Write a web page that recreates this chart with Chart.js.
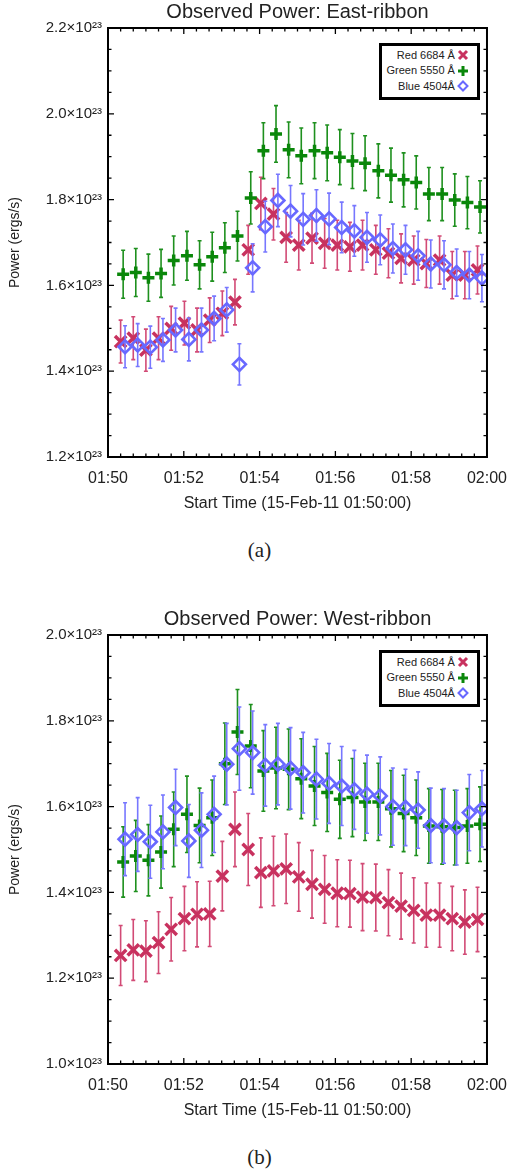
<!DOCTYPE html>
<html>
<head>
<meta charset="utf-8">
<script src="https://cdn.jsdelivr.net/npm/chart.js@4/dist/chart.umd.min.js"></script>
<style>
body { margin: 0; background: #fff; }
#page { position: relative; width: 519px; height: 1171px; font-family: "Liberation Sans", Arial, sans-serif; }
#page canvas { position: absolute; left: 0; }
.legend { position: absolute; box-sizing: border-box; width: 101px; height: 57px; border: 3px solid #000; background: #fff; }
.legend div { position: absolute; right: 22px; font-size: 11px; line-height: 13px; color: #222; white-space: nowrap; }
.legend svg { position: absolute; right: 8px; }
.caption { position: absolute; left: 0; width: 519px; text-align: center; font-family: "Liberation Serif", serif; font-size: 21px; line-height: 24px; color: #222; }
</style>
</head>
<body>
<div id="page">
  <canvas id="east" width="519" height="517" style="top:0"></canvas>
  <div class="caption" style="top:538px">(a)</div>
  <canvas id="west" width="519" height="517" style="top:607px"></canvas>
  <div class="caption" style="top:1145px">(b)</div>
</div>
<script>
// sample times in seconds after 01:50:00 (the three filters are a few seconds apart)
var tRed   = [20, 40, 60, 80, 100, 121, 141, 161, 181, 201, 222, 242, 262, 282, 302, 323, 343, 363, 383, 403, 424, 444, 464, 484, 504, 525, 545, 565, 585];
var tGreen = [24, 44, 64, 84, 104, 125, 145, 165, 185, 205, 226, 246, 266, 286, 306, 327, 347, 367, 387, 407, 428, 448, 468, 488, 508, 529, 549, 569, 589];
var tBlue  = [27, 47, 67, 87, 107, 128, 148, 168, 188, 208, 229, 249, 269, 289, 309, 330, 350, 370, 390, 410, 431, 451, 471, 491, 511, 532, 552, 572, 592];

// power in units of 1e23 erg/s, East ribbon
var eastRed = [1.469, 1.477, 1.449, 1.477, 1.500, 1.512, 1.496, 1.519, 1.535, 1.561, 1.683, 1.791, 1.766, 1.712, 1.694, 1.710, 1.698, 1.694, 1.690, 1.694, 1.683, 1.675, 1.663, 1.659, 1.651, 1.659, 1.624, 1.624, 1.636];
var eastRedErr = [0.050, 0.050, 0.049, 0.050, 0.051, 0.051, 0.051, 0.052, 0.052, 0.053, 0.057, 0.061, 0.060, 0.058, 0.058, 0.058, 0.058, 0.058, 0.057, 0.058, 0.057, 0.057, 0.057, 0.056, 0.056, 0.056, 0.055, 0.055, 0.056];
var eastGreen = [1.626, 1.630, 1.618, 1.628, 1.658, 1.669, 1.648, 1.667, 1.688, 1.715, 1.804, 1.914, 1.953, 1.916, 1.902, 1.914, 1.909, 1.899, 1.890, 1.885, 1.867, 1.857, 1.846, 1.840, 1.813, 1.813, 1.799, 1.793, 1.783];
var eastGreenErr = [0.056, 0.056, 0.055, 0.056, 0.057, 0.057, 0.056, 0.057, 0.058, 0.058, 0.061, 0.065, 0.066, 0.065, 0.065, 0.065, 0.065, 0.064, 0.064, 0.064, 0.063, 0.063, 0.063, 0.062, 0.062, 0.062, 0.061, 0.061, 0.061];
var eastBlue = [1.457, 1.461, 1.456, 1.473, 1.496, 1.474, 1.496, 1.523, 1.543, 1.416, 1.641, 1.737, 1.798, 1.773, 1.754, 1.763, 1.755, 1.735, 1.727, 1.712, 1.706, 1.686, 1.683, 1.669, 1.650, 1.648, 1.630, 1.624, 1.617];
var eastBlueErr = [0.049, 0.050, 0.049, 0.050, 0.051, 0.050, 0.051, 0.052, 0.052, 0.048, 0.056, 0.059, 0.061, 0.060, 0.060, 0.060, 0.060, 0.059, 0.059, 0.058, 0.058, 0.057, 0.057, 0.057, 0.056, 0.056, 0.055, 0.055, 0.055];

// West ribbon
var westRed = [1.253, 1.266, 1.263, 1.283, 1.314, 1.339, 1.349, 1.350, 1.438, 1.547, 1.500, 1.446, 1.450, 1.455, 1.436, 1.419, 1.407, 1.398, 1.397, 1.389, 1.388, 1.376, 1.368, 1.358, 1.347, 1.347, 1.339, 1.331, 1.337];
var westRedErr = [0.070, 0.071, 0.071, 0.072, 0.074, 0.075, 0.076, 0.076, 0.081, 0.087, 0.084, 0.081, 0.081, 0.081, 0.080, 0.079, 0.079, 0.078, 0.078, 0.078, 0.078, 0.077, 0.077, 0.076, 0.075, 0.075, 0.075, 0.075, 0.075];
var westGreen = [1.471, 1.485, 1.475, 1.494, 1.547, 1.582, 1.556, 1.574, 1.700, 1.774, 1.741, 1.683, 1.690, 1.687, 1.665, 1.648, 1.633, 1.617, 1.621, 1.611, 1.611, 1.595, 1.584, 1.574, 1.555, 1.553, 1.551, 1.555, 1.559];
var westGreenErr = [0.082, 0.083, 0.083, 0.084, 0.087, 0.089, 0.087, 0.088, 0.095, 0.099, 0.097, 0.094, 0.095, 0.094, 0.093, 0.092, 0.091, 0.091, 0.091, 0.090, 0.090, 0.089, 0.089, 0.088, 0.087, 0.087, 0.087, 0.087, 0.087];
var westBlue = [1.524, 1.535, 1.518, 1.541, 1.598, 1.520, 1.545, 1.582, 1.699, 1.735, 1.726, 1.696, 1.699, 1.689, 1.679, 1.664, 1.654, 1.648, 1.639, 1.629, 1.625, 1.600, 1.598, 1.592, 1.556, 1.555, 1.551, 1.586, 1.595];
var westBlueErr = [0.085, 0.086, 0.085, 0.086, 0.089, 0.085, 0.087, 0.089, 0.095, 0.097, 0.097, 0.095, 0.095, 0.095, 0.094, 0.093, 0.093, 0.092, 0.092, 0.091, 0.091, 0.090, 0.089, 0.089, 0.087, 0.087, 0.087, 0.089, 0.089];

var seriesNames = ['Red 6684 Å', 'Green 5550 Å', 'Blue 4504Å'];
var timeLabels = ['01:50', '01:52', '01:54', '01:56', '01:58', '02:00'];
var eastYTicks = [1.2, 1.4, 1.6, 1.8, 2.0, 2.2];
var westYTicks = [1.0, 1.2, 1.4, 1.6, 1.8, 2.0];

var styles = [
  { mark: '#c8325f', bar: '#d24b76', pointStyle: 'crossRot', radius: 8, width: 3.5, order: 2,
    icon: '<path d="M2 2L10 10M10 2L2 10" stroke="#c8325f" stroke-width="3"/>' },
  { mark: '#0a870a', bar: '#1e901e', pointStyle: 'cross', radius: 6, width: 3.5, order: 1,
    icon: '<path d="M6 1V11M1 6H11" stroke="#0a870a" stroke-width="3"/>' },
  { mark: '#6868ff', bar: '#7777ff', pointStyle: 'rectRot', radius: 6.5, width: 2.6, order: 0,
    icon: '<path d="M6 1.5L10.5 6L6 10.5L1.5 6Z" fill="none" stroke="#6868ff" stroke-width="2"/>' }
];

function pts(t, v, e) {
  return t.map(function (x, i) { return { x: x, y: v[i], err: e[i] }; });
}

// vertical error bars with small caps, drawn under each series' markers
var errorBars = {
  id: 'errorBars',
  beforeDatasetDraw: function (chart, args) {
    var ds = chart.data.datasets[args.index];
    var xs = chart.scales.x, ys = chart.scales.y, ctx = chart.ctx;
    ctx.save();
    ctx.strokeStyle = ds.barColor;
    ctx.lineWidth = 1.6;
    ctx.beginPath();
    ds.data.forEach(function (p) {
      var px = xs.getPixelForValue(p.x);
      var top = ys.getPixelForValue(p.y + p.err), bot = ys.getPixelForValue(p.y - p.err);
      ctx.moveTo(px, top); ctx.lineTo(px, bot);
      ctx.moveTo(px - 2, top); ctx.lineTo(px + 2, top);
      ctx.moveTo(px - 2, bot); ctx.lineTo(px + 2, bot);
    });
    ctx.stroke();
    ctx.restore();
  }
};

// box frame with inward major/minor ticks on all four sides
var frame = {
  id: 'frame',
  afterDraw: function (chart) {
    var a = chart.chartArea, ctx = chart.ctx, xs = chart.scales.x, ys = chart.scales.y;
    ctx.save();
    ctx.strokeStyle = '#000';
    ctx.lineWidth = 1.3;
    ctx.beginPath();
    xs.ticks.forEach(function (t) {
      var px = xs.getPixelForValue(t.value), len = t.value % 120 === 0 ? 6 : 3.5;
      ctx.moveTo(px, a.bottom); ctx.lineTo(px, a.bottom - len);
      ctx.moveTo(px, a.top); ctx.lineTo(px, a.top + len);
    });
    ys.ticks.forEach(function (t) {
      var py = ys.getPixelForValue(t.value);
      var len = Math.abs(t.value * 5 - Math.round(t.value * 5)) < 1e-6 ? 6 : 3.5;
      ctx.moveTo(a.left, py); ctx.lineTo(a.left + len, py);
      ctx.moveTo(a.right, py); ctx.lineTo(a.right - len, py);
    });
    ctx.stroke();
    ctx.lineWidth = 2;
    ctx.strokeRect(a.left, a.top, a.right - a.left, a.bottom - a.top);
    ctx.restore();
  }
};

function makeChart(id, title, yTicks, red, redErr, green, greenErr, blue, blueErr) {
  var values = [[tRed, red, redErr], [tGreen, green, greenErr], [tBlue, blue, blueErr]];
  var datasets = values.map(function (s, i) {
    var st = styles[i];
    return {
      label: seriesNames[i],
      data: pts(s[0], s[1], s[2]),
      showLine: false,
      order: st.order,
      barColor: st.bar,
      pointStyle: st.pointStyle,
      pointRadius: st.radius,
      pointHoverRadius: st.radius,
      pointBorderWidth: st.width,
      pointBorderColor: st.mark,
      pointBackgroundColor: 'rgba(0,0,0,0)'
    };
  });
  var chart = new Chart(document.getElementById(id), {
    type: 'scatter',
    data: { datasets: datasets },
    plugins: [errorBars, frame],
    options: {
      responsive: false,
      animation: false,
      layout: { padding: { top: 0, right: 22, bottom: 0, left: 0 } },
      plugins: {
        legend: { display: false },
        tooltip: { enabled: false },
        title: {
          display: true, text: title, fullSize: false, color: '#222',
          font: { family: '"Liberation Sans", Arial, sans-serif', size: 20, weight: 'normal' },
          padding: { top: 0, bottom: 4 }
        }
      },
      scales: {
        x: {
          type: 'linear', min: 0, max: 600,
          grid: { display: false, drawTicks: false },
          border: { display: false },
          afterFit: function (s) { s.height = 60; },
          ticks: {
            stepSize: 20, autoSkip: false, maxRotation: 0, padding: 12, color: '#222',
            font: { family: '"Liberation Sans", Arial, sans-serif', size: 16 },
            callback: function (v) { return v % 120 === 0 ? timeLabels[v / 120] : ''; }
          },
          title: {
            display: true, text: 'Start Time (15-Feb-11 01:50:00)', color: '#222',
            font: { family: '"Liberation Sans", Arial, sans-serif', size: 16 },
            padding: { top: 0, bottom: 4 }
          }
        },
        y: {
          min: yTicks[0], max: yTicks[yTicks.length - 1],
          grid: { display: false, drawTicks: false },
          border: { display: false },
          afterFit: function (s) { s.width = 108; },
          ticks: {
            stepSize: 0.05, autoSkip: false, padding: 6, color: '#222',
            font: { family: '"Liberation Sans", Arial, sans-serif', size: 15 },
            callback: function (v) {
              var k = Math.round(v * 5);
              if (Math.abs(v * 5 - k) > 1e-6) return '';
              return (k / 5).toFixed(1) + '×10²³';
            }
          },
          title: {
            display: true, text: 'Power (ergs/s)', color: '#222',
            font: { family: '"Liberation Sans", Arial, sans-serif', size: 14 },
            padding: { top: 7, bottom: 0 }
          }
        }
      }
    }
  });
  addLegend(chart);
  return chart;
}

function addLegend(chart) {
  var a = chart.chartArea;
  var box = document.createElement('div');
  box.className = 'legend';
  box.style.left = (a.right - 7 - 101) + 'px';
  box.style.top = (chart.canvas.offsetTop + a.top + 14.5) + 'px';
  seriesNames.forEach(function (name, i) {
    var row = document.createElement('div');
    row.textContent = name;
    row.style.top = (3.2 + i * 15.5) + 'px';
    box.appendChild(row);
    var svg = document.createElementNS('http://www.w3.org/2000/svg', 'svg');
    svg.setAttribute('width', '12');
    svg.setAttribute('height', '12');
    svg.style.top = (3.7 + i * 15.5) + 'px';
    svg.innerHTML = styles[i].icon;
    box.appendChild(svg);
  });
  document.getElementById('page').appendChild(box);
}

makeChart('east', 'Observed Power: East-ribbon', eastYTicks,
  eastRed, eastRedErr, eastGreen, eastGreenErr, eastBlue, eastBlueErr);
makeChart('west', 'Observed Power: West-ribbon', westYTicks,
  westRed, westRedErr, westGreen, westGreenErr, westBlue, westBlueErr);
</script>
</body>
</html>
